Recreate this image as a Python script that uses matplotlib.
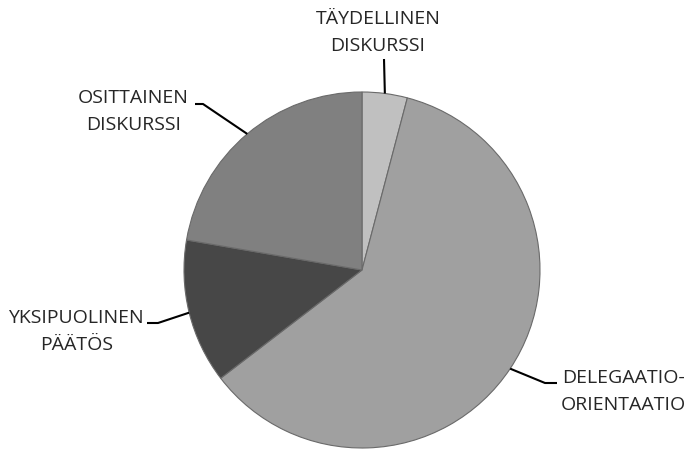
import numpy as np
import matplotlib
matplotlib.use("Agg")
import matplotlib.pyplot as plt

# slice shares (%), clockwise from 12 o'clock
labels = [("TÄYDELLINEN", "DISKURSSI"), ("DELEGAATIO-", "ORIENTAATIO"),
          ("YKSIPUOLINEN", "PÄÄTÖS"), ("OSITTAINEN", "DISKURSSI")]
shares = [4.1, 60.5, 13.1, 22.3]
colors = ["#c0c0c0", "#a0a0a0", "#474747", "#808080"]

W, H = 686, 450
cx, cy, r = 362, 180, 178

# first-line anchor (pixels from bottom), alignment, leader elbow / end
label_pos = [(378, 431), (562, 72), (144, 132), (189, 352)]
label_ha = ["center", "left", "right", "right"]
leaders = [[(384, 391)],
           [(545, 67), (557, 67)],
           [(158, 127), (147, 127)],
           [(203, 346), (195, 346)]]
line_gap = 27

fig = plt.figure(figsize=(W / 100, H / 100), dpi=100)
ax = fig.add_axes([0, 0, 1, 1])

wedges, _ = ax.pie(shares, colors=colors, startangle=90, counterclock=False,
                   center=(cx, cy), radius=r, frame=True,
                   wedgeprops=dict(edgecolor="#6a6a6a", linewidth=0.8))
ax.set_xlim(0, W)
ax.set_ylim(0, H)
ax.set_aspect("equal")
ax.axis("off")

renderer = fig.canvas.get_renderer()
font = dict(fontsize=14, family="Open Sans", color="#262626", va="center")

for w, (l1, l2), (tx, ty), ha, pts in zip(wedges, labels, label_pos,
                                          label_ha, leaders):
    mid = np.deg2rad((w.theta1 + w.theta2) / 2)
    px, py = cx + r * np.cos(mid), cy + r * np.sin(mid)
    xs = [px] + [p[0] for p in pts]
    ys = [py] + [p[1] for p in pts]
    ax.plot(xs, ys, color="black", lw=1.5, solid_capstyle="butt")
    t1 = ax.text(tx, ty, l1, ha=ha, **font)
    bb = t1.get_window_extent(renderer).transformed(ax.transData.inverted())
    ax.text((bb.x0 + bb.x1) / 2, ty - line_gap, l2, ha="center", **font)

fig.savefig("out.png", dpi=100)
